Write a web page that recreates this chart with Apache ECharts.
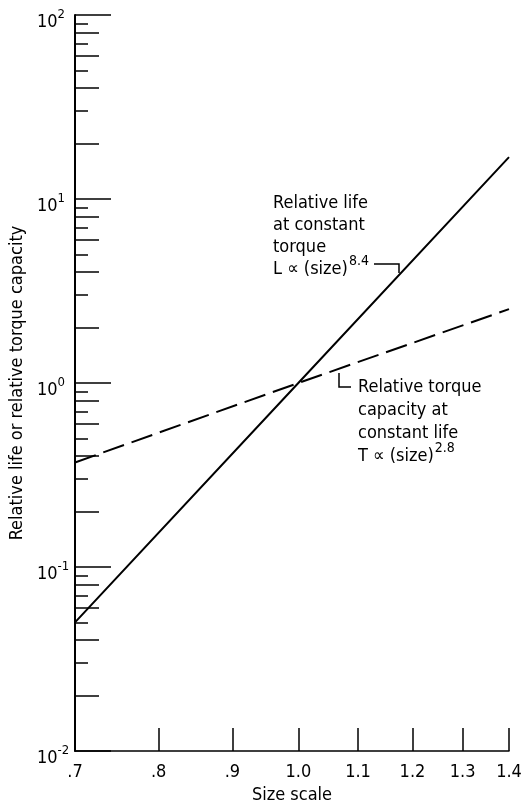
<!DOCTYPE html>
<html>
<head>
<meta charset="utf-8">
<script src="https://cdn.jsdelivr.net/npm/echarts@6/dist/echarts.min.js"></script>
<style>
html,body{margin:0;padding:0;background:#fff;}
#chart{width:527px;height:806px;}
</style>
</head>
<body>
<div id="chart"></div>
<script>
// ---- data ----
const sizeScale      = [0.7, 1.0, 1.4];
const relativeLife   = [0.05, 1.0, 16.9];   // solid line, L ∝ (size)^8.4
const relativeTorque = [0.37, 1.0, 2.52];   // dashed line, T ∝ (size)^2.8

const xTickLabels = [0.7, 0.8, 0.9, 1.0, 1.1, 1.2, 1.3, 1.4];
const xTicks      = [0.8, 0.9, 1.0, 1.1, 1.2, 1.3, 1.4];
const yDecades    = [0.01, 0.1, 1, 10, 100];
const yEvenMinor  = [0.02, 0.04, 0.06, 0.08, 0.2, 0.4, 0.6, 0.8, 2, 4, 6, 8, 20, 40, 60, 80];
const yOddMinor   = [0.03, 0.05, 0.07, 0.09, 0.3, 0.5, 0.7, 0.9, 3, 5, 7, 9, 30, 50, 70, 90];

const FONT = "'DejaVu Sans Condensed', 'Liberation Sans Narrow', 'DejaVu Sans', sans-serif";
const BLACK = '#000';

const chart = echarts.init(document.getElementById('chart'), null, {renderer: 'canvas'});

function yAxisBase(extra) {
  return Object.assign({
    type: 'log', logBase: 10, min: 0.01, max: 100, position: 'left',
    splitLine: {show: false}, minorTick: {show: false}, minorSplitLine: {show: false},
    axisLine: {show: false}, axisLabel: {show: false}
  }, extra);
}

function annText(x, y, text) {
  return {type: 'text', x: x, y: y, style: {
    text: text, fontFamily: FONT, fontSize: 18, fill: BLACK, verticalAlign: 'middle',
    rich: {s: {fontFamily: FONT, fontSize: 14, fill: BLACK, padding: [0, 0, 16, 1]}}
  }};
}

const option = {
  backgroundColor: '#fff',
  animation: false,
  grid: {left: 75, right: 18, top: 15, bottom: 55, containLabel: false, outerBoundsMode: 'none'},
  xAxis: [{
    type: 'log', logBase: 10, min: 0.7, max: 1.4,
    name: 'Size scale', nameLocation: 'middle', nameGap: 35,
    nameTextStyle: {fontFamily: FONT, fontSize: 18, color: BLACK},
    splitLine: {show: false}, minorTick: {show: false},
    axisLine: {show: true, lineStyle: {color: BLACK, width: 1.5}},
    axisTick: {show: true, inside: true, length: 23, customValues: xTicks, lineStyle: {color: BLACK, width: 1.5}},
    axisLabel: {
      show: true, customValues: xTickLabels, margin: 12,
      fontFamily: FONT, fontSize: 18, color: BLACK,
      formatter: function (v) { return v < 1 ? '.' + Math.round(v * 10) : v.toFixed(1); }
    }
  }],
  yAxis: [
    yAxisBase({
      name: 'Relative life or relative torque capacity', nameLocation: 'middle', nameGap: 48,
      nameTextStyle: {fontFamily: FONT, fontSize: 18, color: BLACK},
      axisLine: {show: true, lineStyle: {color: BLACK, width: 2}},
      axisTick: {show: true, inside: true, length: 36, customValues: yDecades, lineStyle: {color: BLACK, width: 1.5}},
      axisLabel: {
        show: true, customValues: yDecades, align: 'left', margin: 38,
        fontFamily: FONT, fontSize: 18, color: BLACK,
        formatter: function (v) { return '{b|10}{s|' + Math.round(Math.log10(v)) + '}'; },
        rich: {
          b: {fontFamily: FONT, fontSize: 18, color: BLACK, padding: [14, 0, 0, 0]},
          s: {fontFamily: FONT, fontSize: 13, color: BLACK}
        }
      }
    }),
    yAxisBase({
      axisTick: {show: true, inside: true, length: 24, customValues: yEvenMinor, lineStyle: {color: BLACK, width: 1.5}}
    }),
    yAxisBase({
      axisTick: {show: true, inside: true, length: 13, customValues: yOddMinor, lineStyle: {color: BLACK, width: 1.5}}
    })
  ],
  series: [
    {
      name: 'Relative life', type: 'line', xAxisIndex: 0, yAxisIndex: 0,
      data: sizeScale.map((x, i) => [x, relativeLife[i]]),
      symbol: 'none', lineStyle: {color: BLACK, width: 2, type: 'solid'}, silent: true
    },
    {
      name: 'Relative torque capacity', type: 'line', xAxisIndex: 0, yAxisIndex: 0,
      data: sizeScale.map((x, i) => [x, relativeTorque[i]]),
      symbol: 'none', lineStyle: {color: BLACK, width: 2, type: [22, 8]}, silent: true
    }
  ],
  graphic: [
    // annotation for the solid line
    annText(273, 203, 'Relative life'),
    annText(273, 225, 'at constant'),
    annText(273, 247, 'torque'),
    annText(273, 269, 'L \u221D (size){s|8.4}'),
    {type: 'polyline', shape: {points: [[374, 264], [399, 264], [399, 273]]}, style: {stroke: BLACK, lineWidth: 1.5, fill: null}},
    // annotation for the dashed line
    {type: 'polyline', shape: {points: [[339, 373], [339, 387], [351, 387]]}, style: {stroke: BLACK, lineWidth: 1.5, fill: null}},
    annText(358, 387, 'Relative torque'),
    annText(358, 410, 'capacity at'),
    annText(358, 433, 'constant life'),
    annText(358, 456, 'T \u221D (size){s|2.8}')
  ]
};
chart.setOption(option);
</script>
</body>
</html>
